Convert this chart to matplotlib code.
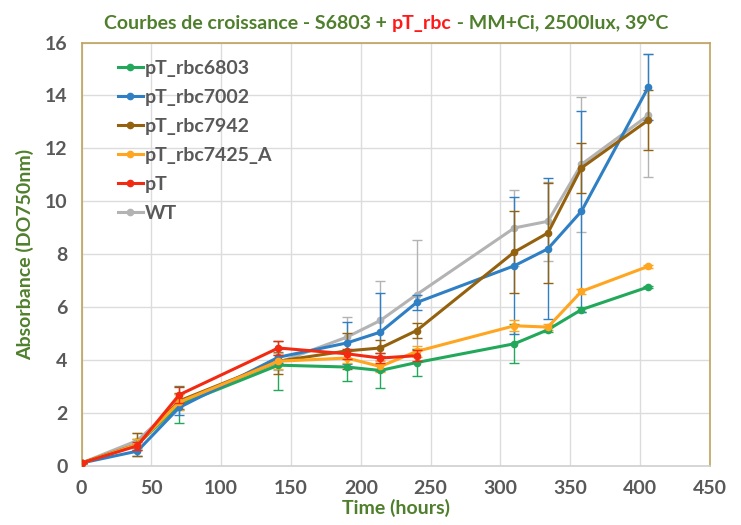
import matplotlib
matplotlib.use("Agg")
import matplotlib.pyplot as plt
from matplotlib.lines import Line2D

# temps de mesure (heures)
hours = [0, 40, 70, 141, 190, 214, 240, 310, 334, 358, 406]

# absorbance DO750nm par souche
rbc6803 = [0.1, 0.8, 2.3, 3.8, 3.73, 3.6, 3.9, 4.61, 5.14, 5.9, 6.76]
rbc7002 = [0.1, 0.55, 2.2, 4.1, 4.64, 5.05, 6.17, 7.56, 8.2, 9.62, 14.32]
rbc7942 = [0.1, 0.8, 2.45, 3.95, 4.34, 4.45, 5.11, 8.08, 8.8, 11.26, 13.07]
rbc7425 = [0.1, 0.8, 2.4, 3.95, 4.07, 3.75, 4.32, 5.29, 5.24, 6.59, 7.54]
pT = [0.1, 0.75, 2.68, 4.45, 4.23, 4.07, 4.16]
WT = [0.1, 0.95, 2.4, 3.9, 4.86, 5.49, 6.47, 8.99, 9.24, 11.39, 13.25]

# écarts-types
err6803 = [0, 0.2, 0.7, 0.93, 0.52, 0.67, 0.5, 0.73, 0.1, 0.1, 0.05]
err7002 = [0, 0.2, 0.3, 0.2, 0.78, 1.48, 0.3, 2.59, 2.66, 3.8, 1.24]
err7942 = [0, 0.45, 0.3, 0.48, 0.68, 0.3, 0.3, 1.55, 1.9, 0.95, 1.15]
err7425 = [0, 0.2, 0.3, 0.3, 0.2, 0.2, 0.2, 0.2, 0.1, 0.1, 0.05]
errpT = [0, 0.15, 0.3, 0.25, 0.2, 0.2, 0.2]
errWT = [0, 0.3, 0.3, 0.3, 0.78, 1.51, 2.05, 1.43, 1.49, 2.55, 2.33]

series = [
    ("pT_rbc6803", rbc6803, err6803, "#22a85a"),
    ("pT_rbc7002", rbc7002, err7002, "#2f7fc4"),
    ("pT_rbc7942", rbc7942, err7942, "#94610f"),
    ("pT_rbc7425_A", rbc7425, err7425, "#ffa51f"),
    ("pT", pT, errpT, "#f22a12"),
    ("WT", WT, errWT, "#b3b3b3"),
]

green = "#4f7f2c"
grey_txt = "#595959"
font = "Lato"

fig = plt.figure(figsize=(7.41, 5.25), dpi=100)
ax = fig.add_axes([0.11, 0.113, 0.848, 0.806])

zorders = {"pT": 5, "WT": 2}
handles = []
for name, y, e, c in series:
    x = hours[:len(y)]
    ax.errorbar(x, y, yerr=e, color=c, lw=2.2, marker="o", ms=4.5,
                elinewidth=1, capsize=3.5, capthick=1,
                zorder=zorders.get(name, 3))
    handles.append(Line2D([], [], color=c, lw=2.2, marker="o", ms=4.5,
                          label=name))

ax.set_xlim(0, 450)
ax.set_ylim(0, 16)
ax.set_xticks(range(0, 451, 50))
ax.set_yticks(range(0, 17, 2))
ax.grid(True, color="#dcdcdc", lw=1)
ax.set_axisbelow(True)
ax.tick_params(length=0, labelsize=14, labelcolor=grey_txt, pad=10)
for lab in ax.get_xticklabels() + ax.get_yticklabels():
    lab.set_fontweight("bold")
    lab.set_family(font)

for s in ["top", "right", "left"]:
    ax.spines[s].set_color("#bfa35e")
    ax.spines[s].set_linewidth(1.2)
ax.spines["bottom"].set_color("#d0d0d0")
ax.spines["bottom"].set_linewidth(1.2)

ax.set_xlabel("Time (hours)", color=green, fontsize=14, fontweight="bold",
              family=font, labelpad=2)
ax.set_ylabel("Absorbance (DO750nm)", color=green, fontsize=14,
              fontweight="bold", family=font, labelpad=8)

leg = ax.legend(handles=handles, loc="upper left",
                bbox_to_anchor=(0.03, 1.0), frameon=False,
                handlelength=1.3, handletextpad=0.1, labelspacing=0.62,
                prop={"family": font, "weight": "bold", "size": 14})
for t in leg.get_texts():
    t.set_color(grey_txt)

# titre en trois morceaux (pT_rbc en rouge)
parts = [("Courbes de croissance - S6803 + ", green),
         ("pT_rbc", "#ff1a1a"),
         (" - MM+Ci, 2500lux, 39°C", green)]
fig.canvas.draw()
r = fig.canvas.get_renderer()
texts = []
widths = []
for s, c in parts:
    t = fig.text(0, 0.955, s, color=c, fontsize=14, fontweight="bold",
                 family=font, va="center", ha="left")
    texts.append(t)
    widths.append(t.get_window_extent(r).width)
total = sum(widths)
x0 = 386 / 741 * fig.bbox.width - total / 2
for t, w in zip(texts, widths):
    t.set_x(x0 / fig.bbox.width)
    x0 += w

fig.savefig("out.png", dpi=100)
